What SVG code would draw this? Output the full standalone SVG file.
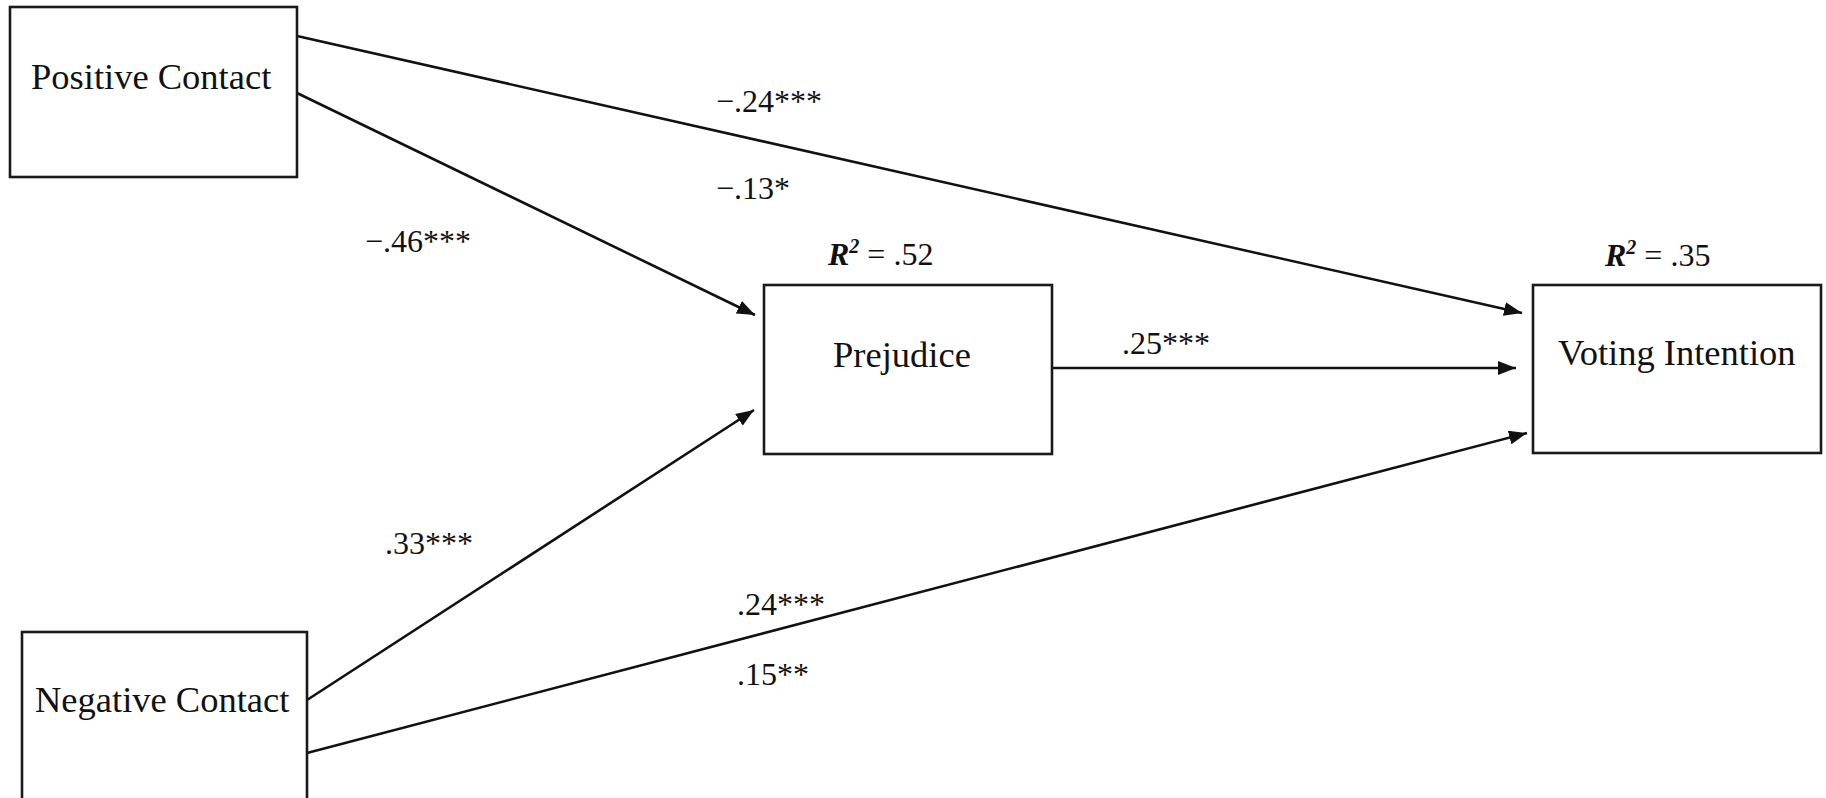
<svg xmlns="http://www.w3.org/2000/svg" width="1826" height="798" viewBox="0 0 1826 798">
<style>
.box{fill:#fff;stroke:#1a1a1a;stroke-width:2.6}
.lbl{font-family:"Liberation Serif","Times New Roman",serif;font-size:36.5px;fill:#111}
.num{font-family:"Liberation Serif","Times New Roman",serif;font-size:32px;fill:#111}
.edge{stroke:#111;stroke-width:2.6;fill:none;marker-end:url(#arr)}
.r{font-weight:bold;font-style:italic}
</style>
<defs>
<marker id="arr" markerUnits="userSpaceOnUse" markerWidth="20" markerHeight="14" refX="18" refY="7" orient="auto">
<path d="M0,0 L18,7 L0,14 z" fill="#111"/>
</marker>
</defs>
<rect width="1826" height="798" fill="#fff"/>
<g id="connectors">
<line class="edge" x1="297" y1="36" x2="1522" y2="313"/>
<line class="edge" x1="297" y1="93" x2="755" y2="315"/>
<line class="edge" x1="307" y1="700" x2="754" y2="410"/>
<line class="edge" x1="307" y1="753" x2="1527" y2="433"/>
<line class="edge" x1="1052" y1="368" x2="1516" y2="368"/>
</g>
<g id="edge-labels">
<text class="num" x="716" y="112">−.24***</text>
<text class="num" x="716" y="199">−.13*</text>
<text class="num" x="365" y="252">−.46***</text>
<text class="num" x="385" y="554">.33***</text>
<text class="num" x="1122" y="354">.25***</text>
<text class="num" x="737" y="615">.24***</text>
<text class="num" x="737" y="685">.15**</text>
</g>
<g id="positive-contact">
<rect class="box" x="10" y="7" width="287" height="170"/>
<text class="lbl" x="31" y="89">Positive Contact</text>
</g>
<g id="prejudice">
<rect class="box" x="764" y="285" width="288" height="169"/>
<text class="lbl" x="833" y="367">Prejudice</text>
<text class="num" x="828" y="265"><tspan class="r">R</tspan><tspan class="r" font-size="20" dy="-12">2</tspan><tspan dy="12"> = .52</tspan></text>
</g>
<g id="voting-intention">
<rect class="box" x="1533" y="285" width="288" height="168"/>
<text class="lbl" x="1558" y="365">Voting Intention</text>
<text class="num" x="1605" y="266"><tspan class="r">R</tspan><tspan class="r" font-size="20" dy="-12">2</tspan><tspan dy="12"> = .35</tspan></text>
</g>
<g id="negative-contact">
<rect class="box" x="22" y="632" width="285" height="175"/>
<text class="lbl" x="35" y="712">Negative Contact</text>
</g>
</svg>
